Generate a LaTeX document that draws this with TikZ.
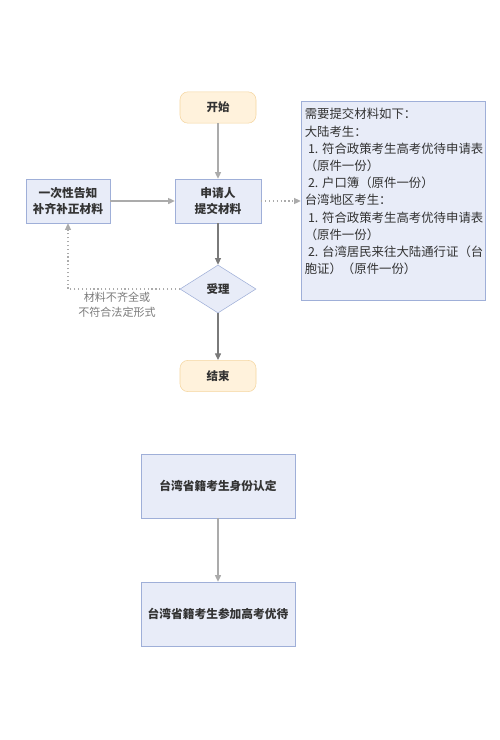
\documentclass[tikz,border=0pt]{standalone}
\usepackage{fontspec}
\setmainfont{Noto Sans CJK SC}
\usetikzlibrary{shapes.geometric,arrows.meta}
\definecolor{boxfill}{HTML}{E8ECF8}
\definecolor{boxline}{HTML}{9FAFD8}
\definecolor{termfill}{HTML}{FFF2DC}
\definecolor{termline}{HTML}{F5D6A0}
\definecolor{lightline}{HTML}{ABABAB}
\definecolor{darkline}{HTML}{7A7A7A}
\definecolor{txt}{HTML}{333333}
\begin{document}
\begin{tikzpicture}[x=0.75pt,y=-0.75pt,
  every node/.style={font=\fontsize{8.3pt}{11pt}\selectfont, text=txt},
  term/.style={draw=termline, fill=termfill, rounded corners=6pt, minimum width=57pt, minimum height=23.5pt, inner sep=0pt, font=\fontsize{8.6pt}{11pt}\selectfont\bfseries},
  procbox/.style={draw=boxline, fill=boxfill, inner sep=0pt, align=center, font=\fontsize{8.8pt}{12.5pt}\selectfont\bfseries},
  decide/.style={draw=boxline, fill=boxfill, diamond, minimum width=57pt, minimum height=36pt, inner sep=0pt, font=\fontsize{8.6pt}{11pt}\selectfont\bfseries},
  arrowlight/.style={draw=lightline, line width=1pt, -{Triangle[length=5pt,width=4.5pt]}},
  arrowdark/.style={draw=darkline, line width=0.8pt, -{Triangle[length=5pt,width=4.5pt]}},
  arrowdot/.style={draw=lightline, line width=0.9pt, dotted, -{Triangle[length=5pt,width=4.5pt]}},
  lbl/.style={text=darkline, align=center, font=\fontsize{8.3pt}{11pt}\selectfont}
]
\useasboundingbox (0,0) rectangle (500,740);
\fill[white] (0,0) rectangle (500,740);

\node[term] (start) at (218,107.5) {开始};
\node[procbox, minimum width=64.5pt, minimum height=33pt] (apply) at (218,201) {申请人\\提交材料};
\node[procbox, minimum width=63pt, minimum height=33pt] (notify) at (68,201) {一次性告知\\补齐补正材料};
\node[decide] (accept) at (218,289) {受理};
\node[term] (end) at (218,376) {结束};

\node[draw=boxline, fill=boxfill, minimum width=138pt, minimum height=149pt, inner sep=0pt] (notes) at (393,200.5) {};
\node[anchor=north west, align=left, inner sep=0pt, font=\fontsize{9.3pt}{12.9pt}\selectfont] (notestext) at (304.5,108) {需要提交材料如下：\\大陆考生：\\\hspace{2.5pt}1. 符合政策考生高考优待申请表\\（原件一份）\\\hspace{2.5pt}2. 户口簿（原件一份）\\台湾地区考生：\\\hspace{2.5pt}1. 符合政策考生高考优待申请表\\（原件一份）\\\hspace{2.5pt}2. 台湾居民来往大陆通行证（台\\胞证）（原件一份）};

\node[procbox, minimum width=115.5pt, minimum height=48pt] (ident) at (218,486) {台湾省籍考生身份认定};
\node[procbox, minimum width=115.5pt, minimum height=48pt] (prefer) at (218,614) {台湾省籍考生参加高考优待};

\coordinate (corner) at (68,289);
\node[lbl] (reason) at (117,305) {材料不齐全或\\不符合法定形式};

\draw[arrowlight] (start) -- (apply);
\draw[arrowlight] (notify) -- (apply);
\draw[arrowdot] (apply) -- (notes.west |- apply);
\draw[arrowdark] (apply) -- (accept);
\draw[arrowdark] (accept) -- (end);
\draw[arrowdot] (accept.west) -- (corner) -- (notify.south);
\draw[arrowlight] (ident) -- (prefer);
\end{tikzpicture}
\end{document}
